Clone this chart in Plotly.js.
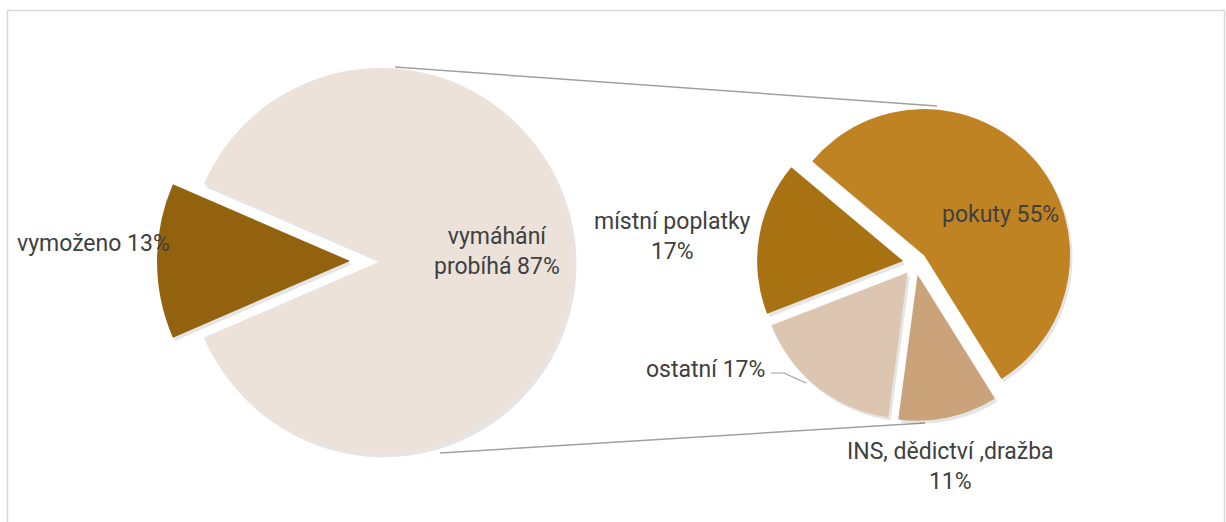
<!DOCTYPE html>
<html>
<head>
<meta charset="utf-8">
<script src="https://cdn.plot.ly/plotly-3.0.1.min.js"></script>
<style>html,body{margin:0;padding:0;background:#fff;}#chart{width:1226px;height:522px;}</style>
</head>
<body>
<div id="chart"></div>
<script>
// Primary pie
const leftLabels = ['vymoženo', 'vymáhání probíhá'];
const leftValues = [13, 87];
// Secondary pie (breakdown of "vymáhání probíhá")
const rightLabels = ['pokuty', 'INS, dědictví ,dražba', 'ostatní', 'místní poplatky'];
const rightValues = [55, 11, 17, 17];

const leftColors = ['#93620F', '#ECE2DA'];
const rightColors = ['#C08323', '#CBA37A', '#DCC6B1', '#A87213'];

const W = 1226, H = 522;
const px = x => x / W;
const py = y => 1 - y / H;

const shadowL = {
  type: 'pie', labels: leftLabels, values: leftValues, sort: false,
  direction: 'clockwise', rotation: 246.6, pull: [0.16, 0],
  domain: {x: [px(381 - 232) + 0.002, px(381 + 232) + 0.002], y: [py(261 + 224) - 0.006, py(261 - 224) - 0.006]},
  marker: {colors: ['rgba(0,0,0,0.10)', 'rgba(0,0,0,0.10)'], line: {width: 0}},
  textinfo: 'none', hoverinfo: 'skip', showlegend: false
};
const pieL = {
  type: 'pie', labels: leftLabels, values: leftValues, sort: false,
  direction: 'clockwise', rotation: 246.6, pull: [0.16, 0],
  domain: {x: [px(381 - 232), px(381 + 232)], y: [py(261 + 224), py(261 - 224)]},
  marker: {colors: leftColors, line: {width: 0}},
  textinfo: 'none', hoverinfo: 'skip', showlegend: false
};
const shadowR = {
  type: 'pie', labels: rightLabels, values: rightValues, sort: false,
  direction: 'clockwise', rotation: -50, pull: 0.082,
  domain: {x: [px(915 - 166) + 0.002, px(915 + 166) + 0.002], y: [py(263 + 158) - 0.006, py(263 - 158) - 0.006]},
  marker: {colors: rightValues.map(() => 'rgba(0,0,0,0.10)'), line: {width: 0}},
  textinfo: 'none', hoverinfo: 'skip', showlegend: false
};
const pieR = {
  type: 'pie', labels: rightLabels, values: rightValues, sort: false,
  direction: 'clockwise', rotation: -50, pull: 0.082,
  domain: {x: [px(915 - 166), px(915 + 166)], y: [py(263 + 158), py(263 - 158)]},
  marker: {colors: rightColors, line: {width: 0}},
  textinfo: 'none', hoverinfo: 'skip', showlegend: false
};

const font = {family: 'Roboto, "DejaVu Sans", sans-serif', size: 23, color: '#404040'};
function ann(text, x, y) {
  return {text: text, x: px(x), y: py(y), xref: 'paper', yref: 'paper',
          xanchor: 'center', yanchor: 'middle', showarrow: false, font: font, align: 'center'};
}
const annotations = [
  ann(leftLabels[0] + ' ' + leftValues[0] + '%', 93, 244),
  ann('vymáhání<br>probíhá ' + leftValues[1] + '%', 497, 251),
  ann(rightLabels[0] + ' ' + rightValues[0] + '%', 1000, 214),
  ann('místní poplatky<br>' + rightValues[3] + '%', 672, 236),
  ann(rightLabels[2] + ' ' + rightValues[2] + '%', 705, 369),
  ann(rightLabels[1] + '<br>' + rightValues[1] + '%', 950, 466)
];

const shapes = [
  {type: 'rect', xref: 'paper', yref: 'paper', x0: px(7.5), x1: px(1224.5), y0: -0.1, y1: py(10.5),
   line: {color: '#D9D9D9', width: 1.5}, layer: 'below'},
  {type: 'line', xref: 'paper', yref: 'paper', x0: px(395), y0: py(67), x1: px(937), y1: py(106),
   line: {color: '#A0A0A0', width: 1.5}, layer: 'below'},
  {type: 'line', xref: 'paper', yref: 'paper', x0: px(440), y0: py(453), x1: px(925), y1: py(423),
   line: {color: '#A0A0A0', width: 1.5}, layer: 'below'},
  {type: 'path', xref: 'paper', yref: 'paper',
   path: 'M ' + px(771) + ' ' + py(373) + ' L ' + px(784) + ' ' + py(373) + ' L ' + px(806) + ' ' + py(383),
   line: {color: '#A0A0A0', width: 1.2}, layer: 'above'}
];

const layout = {
  width: W, height: H, margin: {l: 0, r: 0, t: 0, b: 0},
  paper_bgcolor: '#FFFFFF', showlegend: false,
  annotations: annotations, shapes: shapes, font: font
};
Plotly.newPlot('chart', [shadowL, pieL, shadowR, pieR], layout, {displayModeBar: false, staticPlot: true});
</script>
</body>
</html>
